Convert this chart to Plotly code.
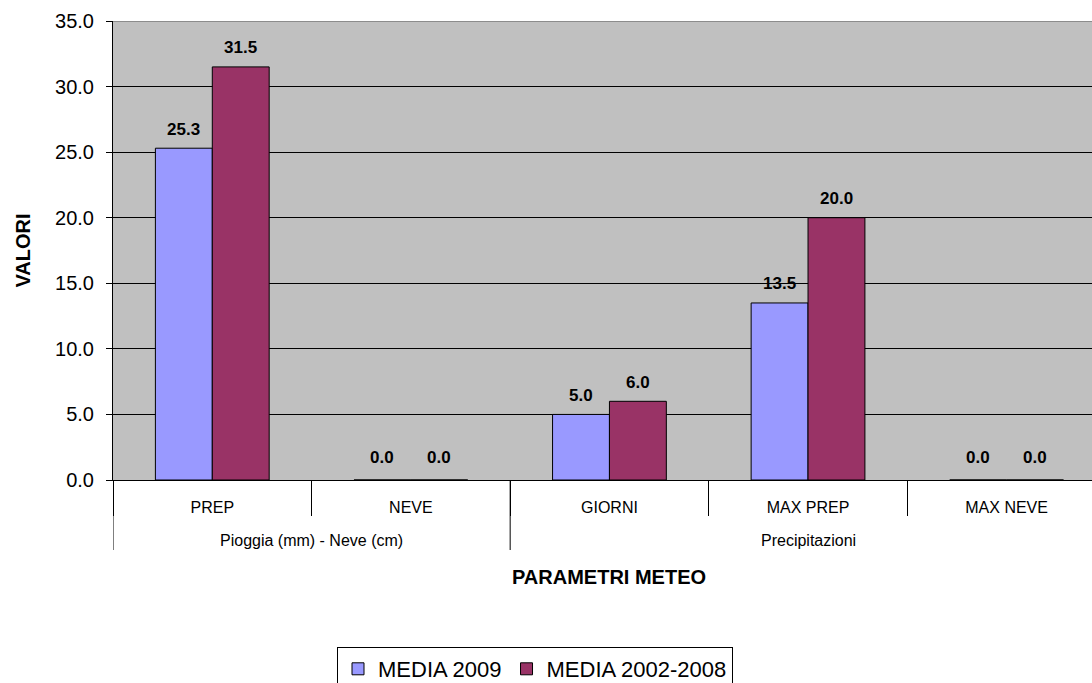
import plotly.graph_objects as go

groups = ["Pioggia (mm) - Neve (cm)", "Precipitazioni"]
group_sizes = [2, 3]
categories = ["PREP", "NEVE", "GIORNI", "MAX PREP", "MAX NEVE"]
media_2009 = [25.3, 0.0, 5.0, 13.5, 0.0]
media_2002_2008 = [31.5, 0.0, 6.0, 20.0, 0.0]
y_ticks = [0, 5, 10, 15, 20, 25, 30, 35]

FONT = "Liberation Sans, Arial, sans-serif"
W, H = 1092, 683
L, T, B = 113, 21, 203
plot_h = H - T - B
BARGAP = 0.427

def py(px):
    """pixel row -> paper y"""
    return (H - B - px) / plot_h

series = [("MEDIA 2009", media_2009, "#9999FF"),
          ("MEDIA 2002-2008", media_2002_2008, "#993366")]

fig = go.Figure()
for name, vals, color in series:
    fig.add_trace(go.Bar(
        x=categories, y=vals, name=name,
        marker=dict(color=color, line=dict(color="black", width=1)),
        cliponaxis=False,
    ))

shapes = []
annotations = []

# value labels above bars (placed on the data scale)
bar_w = (1 - BARGAP) / len(series)
for s, (name, vals, color) in enumerate(series):
    off = (s - (len(series) - 1) / 2) * bar_w
    for i, v in enumerate(vals):
        annotations.append(dict(text=f"<b>{v:.1f}</b>", xref="x", yref="y",
                                x=i + off, y=v, yshift=19 if v > 0 else 23,
                                showarrow=False, yanchor="middle",
                                font=dict(size=17, family=FONT, color="black")))

start = 0
for g, n in zip(groups, group_sizes):
    shapes.append(dict(type="line", xref="x", yref="paper",
                       x0=start - 0.5, x1=start - 0.5, y0=0, y1=py(550),
                       line=dict(color="black", width=1)))
    annotations.append(dict(text=g, xref="x", yref="paper",
                            x=start + (n - 1) / 2, y=py(540),
                            showarrow=False, yanchor="middle",
                            font=dict(size=16, family=FONT, color="black")))
    start += n

# gray top border of plot area
shapes.append(dict(type="line", xref="paper", yref="y", x0=0, x1=1, y0=35, y1=35,
                   line=dict(color="#8C8C8C", width=2), layer="above"))

# axis titles
annotations.append(dict(text="<b>PARAMETRI METEO</b>", xref="x", yref="paper",
                        x=(len(categories) - 1) / 2, y=py(577), showarrow=False,
                        yanchor="middle", font=dict(size=20, family=FONT, color="black")))
annotations.append(dict(text="<b>VALORI</b>", xref="paper", yref="paper",
                        x=(22 - L) / (W - L), y=0.5, textangle=-90, showarrow=False,
                        xanchor="center", yanchor="middle",
                        font=dict(size=20, family=FONT, color="black")))

fig.update_layout(
    width=W, height=H,
    margin=dict(l=L, r=0, t=T, b=B, autoexpand=False),
    paper_bgcolor="white", plot_bgcolor="#C0C0C0",
    barmode="group", bargap=BARGAP, bargroupgap=0,
    font=dict(family=FONT, color="black"),
    showlegend=True,
    legend=dict(orientation="h", x=(535 - L) / (W - L), xanchor="center",
                y=py(647), yanchor="top",
                bordercolor="black", borderwidth=1, bgcolor="white",
                font=dict(size=22, family=FONT), traceorder="normal",
                itemwidth=30),
    shapes=shapes,
    annotations=annotations,
    xaxis=dict(type="category", range=[-0.5, 4.43], tickson="boundaries",
               ticks="outside", ticklen=35, tickcolor="black",
               ticklabelstandoff=13,
               showline=True, linecolor="black", automargin=False,
               tickfont=dict(size=16, family=FONT)),
    yaxis=dict(range=[0, 35], tickvals=y_ticks, tickformat=".1f",
               ticks="outside", ticklen=6, tickcolor="black",
               ticklabelstandoff=8,
               showgrid=True, gridcolor="black", gridwidth=1,
               showline=True, linecolor="black", zeroline=False,
               automargin=False,
               tickfont=dict(size=20, family=FONT)),
)

fig.write_html("out.html")
